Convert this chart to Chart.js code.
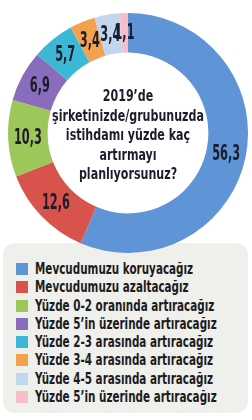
<!DOCTYPE html>
<html>
<head>
<meta charset="utf-8">
<script src="https://cdn.jsdelivr.net/npm/chart.js@4"></script>
<style>
  body { margin: 0; background: #fff; }
  #wrap { position: relative; width: 252px; height: 420px; overflow: hidden; }
  #legendBox {
    position: absolute; left: 3px; top: 243px; width: 245px; height: 170px;
    background: #efefeb; border-radius: 12px;
  }
  #legend { position: absolute; left: 16px; top: 260px; margin: 0; padding: 0; list-style: none; }
  #legend li {
    height: 18.3px; line-height: 18px; white-space: nowrap;
    font-family: "DejaVu Sans Condensed", "DejaVu Sans", sans-serif;
    font-weight: bold; font-size: 15px; color: #1b1b22;
  }
  #legend span.box { display: inline-block; width: 12px; height: 12px; margin-right: 7px; vertical-align: -1px; }
  #legend span.txt { display: inline-block; transform: scaleX(0.77); transform-origin: left center; }
  #chartBox { position: absolute; left: 0; top: 0; width: 252px; height: 260px; z-index: 2; }
</style>
</head>
<body>
<div id="wrap">
  <div id="legendBox"></div>
  <ul id="legend"></ul>
  <div id="chartBox"><canvas id="pie"></canvas></div>
</div>
<script>
const labels = [
    'Mevcudumuzu koruyacağız',
    'Mevcudumuzu azaltacağız',
    'Yüzde 0-2 oranında artıracağız',
    'Yüzde 5’in üzerinde artıracağız',
    'Yüzde 2-3 arasında artıracağız',
    'Yüzde 3-4 arasında artıracağız',
    'Yüzde 4-5 arasında artıracağız',
    'Yüzde 5’in üzerinde artıracağız'
];
const values = [56.3, 12.6, 10.3, 6.9, 5.7, 3.4, 3.4, 1.1];
const colors = ['#5f94d6', '#d8534c', '#9dc75b', '#8a6cbd', '#3db7d6', '#f3a14f', '#c2d6ef', '#f5bec8'];
const centerLines = ['2019’de', 'şirketinizde/grubunuzda', 'istihdamı yüzde kaç', 'artırmayı', 'planlıyorsunuz?'];

const fontFamily = '"DejaVu Sans Condensed", "DejaVu Sans", sans-serif';

// legend as html so the donut can sit over the grey box
document.getElementById('legend').innerHTML = labels.map((l, i) =>
    `<li><span class="box" style="background:${colors[i]}"></span><span class="txt">${l}</span></li>`).join('');

// condensed look: squeeze text horizontally
function narrowText(ctx, text, x, y, sx) {
    ctx.save();
    ctx.translate(x, y);
    ctx.scale(sx, 1);
    ctx.fillText(text, 0, 0);
    ctx.restore();
}

const sliceLabels = {
    id: 'sliceLabels',
    afterDatasetsDraw(chart) {
        const ctx = chart.ctx;
        const meta = chart.getDatasetMeta(0);
        ctx.save();
        ctx.fillStyle = '#1c1c2a';
        ctx.textAlign = 'center';
        ctx.textBaseline = 'middle';
        ctx.font = 'bold 21px ' + fontFamily;
        meta.data.forEach((arc, i) => {
            const p = arc.tooltipPosition();
            narrowText(ctx, values[i].toFixed(1).replace('.', ','), p.x, p.y + 1, 0.6);
        });
        // question in the hole
        const cx = (chart.chartArea.left + chart.chartArea.right) / 2;
        const cy = (chart.chartArea.top + chart.chartArea.bottom) / 2;
        ctx.font = 'bold 16px ' + fontFamily;
        centerLines.forEach((line, i) => {
            narrowText(ctx, line, cx, cy - 36 + i * 19.5, 0.77);
        });
        ctx.restore();
    }
};

new Chart(document.getElementById('pie'), {
    type: 'doughnut',
    data: {
        labels: labels,
        datasets: [{
            data: values,
            backgroundColor: colors,
            borderWidth: 0
        }]
    },
    options: {
        responsive: true,
        maintainAspectRatio: false,
        animation: false,
        cutout: '67%',
        layout: { padding: { left: 8, right: 4, top: 13, bottom: 7 } },
        plugins: {
            legend: { display: false },
            tooltip: { enabled: false }
        }
    },
    plugins: [sliceLabels]
});
</script>
</body>
</html>
